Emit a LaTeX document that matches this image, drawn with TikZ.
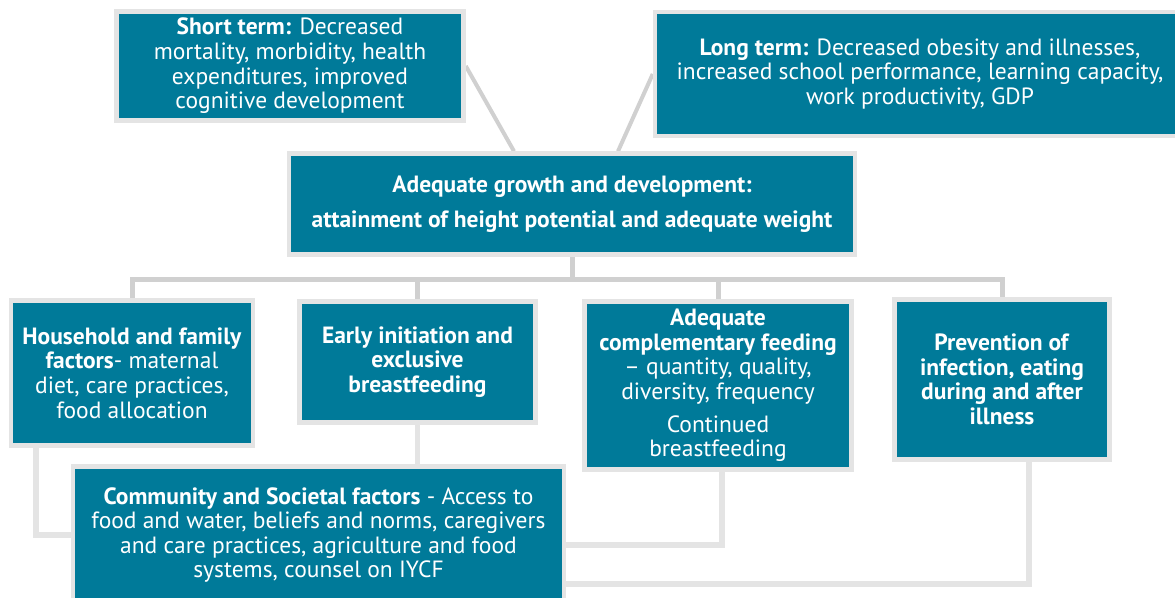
\documentclass[tikz,border=0pt]{standalone}
\usepackage{fontspec}
\setmainfont{PT Sans}
\usepackage{tikz}
\usetikzlibrary{positioning}
\usetikzlibrary{backgrounds}

\definecolor{boxteal}{HTML}{007A99}
\definecolor{rimgray}{HTML}{E4E4E4}
\definecolor{linkgray}{HTML}{D0D0D0}

\begin{document}
\begin{tikzpicture}[x=1pt, y=-1pt, tealnode/.style={rectangle,
      draw=rimgray, fill=boxteal, line width=4.5pt, inner sep=0pt,
      text=white, align=center, font=\fontsize{23.5}{24.6}\selectfont},
    linkline/.style={draw=linkgray, line width=5pt},
    softline/.style={draw=rimgray, line width=5.5pt}, ]
    \useasboundingbox (0,0) rectangle (1175,597);
    \clip (0,0) rectangle (1175,597);
    % Nodes
    \node[tealnode, minimum width=347pt, minimum height=109pt] (shortterm)
    at (290,66) {\textbf{Short term:} Decreased\\ mortality, morbidity,
      health\\ expenditures, improved\\ cognitive development};
    \node[tealnode, minimum width=530pt, minimum height=124pt] (longterm)
    at (920,74) {\textbf{Long term:} Decreased obesity and illnesses,\\
      increased school performance, learning capacity,\\ work
      productivity, GDP}; \node[tealnode, minimum width=566pt, minimum
    height=101pt, font=\fontsize{23.5}{35}\selectfont] (growth) at
    (572,204) {\textbf{Adequate growth and development:}\\
      \textbf{attainment of height potential and adequate weight}};
    \node[tealnode, minimum width=242pt, minimum height=145pt]
    (household) at (132,373) {\textbf{Household and family}\\
      \textbf{factors}- maternal\\ diet, care practices,\\ food
      allocation}; \node[tealnode, minimum width=236pt, minimum
    height=121pt] (earlybf) at (417.5,362) {\textbf{Early initiation
        and}\\ \textbf{exclusive}\\ \textbf{breastfeeding}};
    \node[tealnode, minimum width=267pt, minimum height=168pt]
    (complfeed) at (718,385.5) {\textbf{Adequate}\\
      \textbf{complementary feeding}\\ -- quantity, quality,\\
      diversity, frequency\\[8pt] Continued\\ breastfeeding};
    \node[tealnode, minimum width=215pt, minimum height=160pt]
    (prevention) at (1002,379.5) {\textbf{Prevention of}\\
      \textbf{infection, eating}\\ \textbf{during and after}\\
      \textbf{illness}}; \node[tealnode, minimum width=491pt, minimum
    height=137pt] (community) at (318.5,535) {\textbf{Community and
        Societal factors} - Access to\\ food and water, beliefs and
      norms, caregivers\\ and care practices, agriculture and food\\
      systems, counsel on IYCF};
    % Lines
    \begin{scope}[on background layer]
      \draw[linkline, line width=4pt] (shortterm.east) --
      ([xshift=-58pt]growth.north); \draw[linkline, line width=4pt]
      (longterm.west) -- ([xshift=46pt]growth.north);
      \draw[linkline] (growth.south) -- ++(0,23) coordinate (bus);
      \draw[linkline] (household.north) |- (bus) -|
      (prevention.north); \draw[linkline] (earlybf.north) --
      (earlybf.north |- bus); \draw[linkline] (complfeed.north) --
      (complfeed.north |- bus); \draw[softline] (community.west) -|
      ([xshift=-96pt]household.south); \draw[softline]
      (earlybf.south) -- (earlybf.south |- community.north);
      \draw[softline] ([xshift=4pt]complfeed.south) |-
      ([yshift=-10pt]community.east); \draw[softline]
      ([xshift=27pt]prevention.south) |-
      ([yshift=-49pt]community.east);
    \end{scope}
  \end{tikzpicture}
\end{document}
